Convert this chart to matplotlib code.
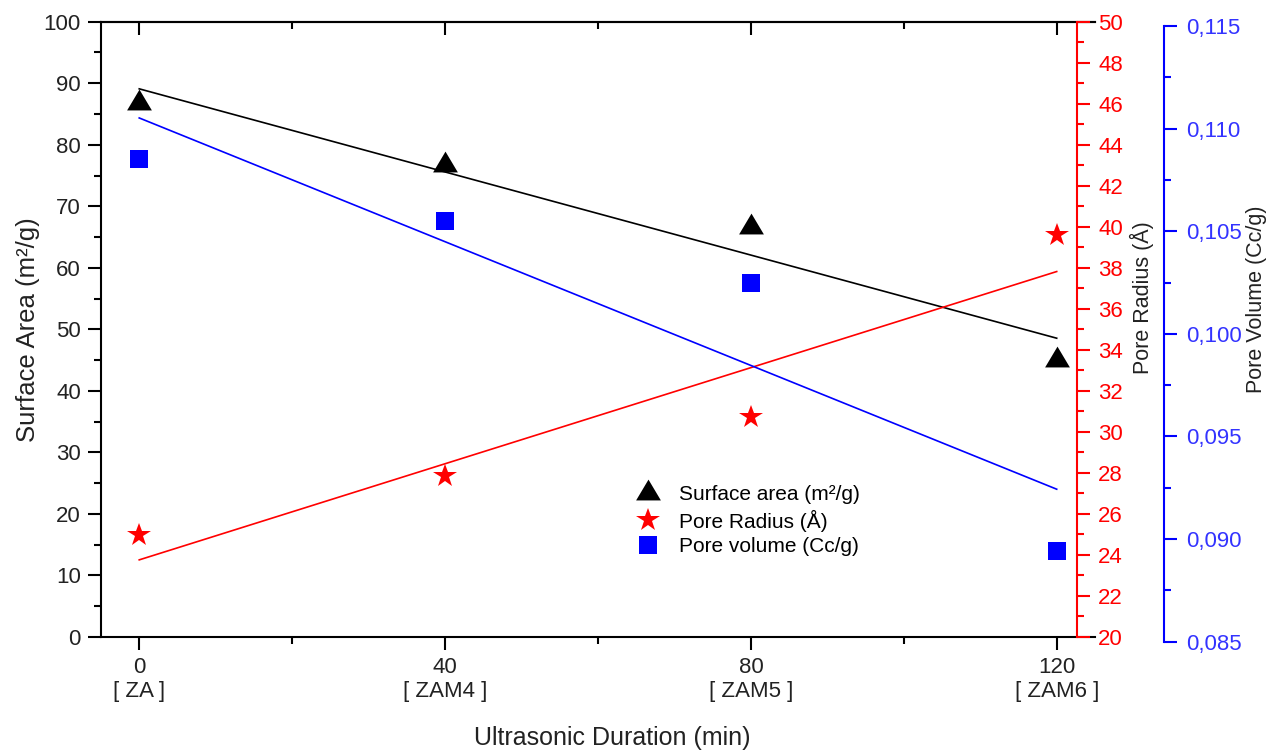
import numpy as np
import matplotlib.pyplot as plt
from matplotlib.ticker import MultipleLocator, FuncFormatter

plt.rcParams['font.family'] = ['Liberation Sans', 'DejaVu Sans']

# values
duration = [0, 40, 80, 120]
samples = ['ZA', 'ZAM4', 'ZAM5', 'ZAM6']
surface_area = [86.8, 76.7, 66.7, 45.1]        # m2/g
pore_radius = [24.96, 27.85, 30.73, 39.62]      # Angstrom
pore_volume = [0.1085, 0.1055, 0.1025, 0.0894]  # cc/g

x = np.array(duration, dtype=float)
xfit = np.array([x[0], x[-1]])

# wide triangle marker, centred on its centroid (as Origin does)
tri = [(0, 0.7), (-0.625, -0.35), (0.625, -0.35), (0, 0.7)]

fig = plt.figure(figsize=(12.72, 7.56), dpi=100)
ax = fig.add_axes([0.0794, 0.1574, 0.7814, 0.8139])
ax_r = ax.twinx()
ax_v = fig.add_axes([0.0794, 0.1512, 0.7814, 0.8144])

lw = 1.2
# surface area (left axis)
ax.plot(xfit, np.polyval(np.polyfit(x, surface_area, 1), xfit), color='black', lw=lw)
h1, = ax.plot(x, surface_area, ls='none', marker=tri, ms=20, color='black', mew=0,
              label='Surface area (m²/g)')
# pore radius (red axis)
ax_r.plot(xfit, np.polyval(np.polyfit(x, pore_radius, 1), xfit), color='red', lw=lw)
h2, = ax_r.plot(x, pore_radius, ls='none', marker='*', ms=17.5, color='red', mew=0,
                label='Pore Radius (Å)')
# pore volume (blue axis)
ax_v.plot(xfit, np.polyval(np.polyfit(x, pore_volume, 1), xfit), color='blue', lw=lw)
h3, = ax_v.plot(x, pore_volume, ls='none', marker='s', ms=13, color='blue', mew=0,
                label='Pore volume (Cc/g)')

spw = 1.5
tsize = 16
# ---- main axes
ax.set_xlim(-5, 125)
ax.set_ylim(0, 100)
ax.spines['right'].set_visible(False)
for s in ['left', 'bottom', 'top']:
    ax.spines[s].set_linewidth(spw)
ax.set_xticks(duration)
ax.set_xticklabels(['{}\n[ {} ]'.format(d, n) for d, n in zip(duration, samples)])
ax.xaxis.set_minor_locator(MultipleLocator(20))
ax.yaxis.set_major_locator(MultipleLocator(10))
ax.yaxis.set_minor_locator(MultipleLocator(5))
ax.tick_params(which='both', direction='out', width=spw, labelsize=tsize, labelcolor='#222222')
ax.tick_params(which='major', length=9.5)
ax.tick_params(which='minor', length=5)
ax.tick_params(axis='x', pad=5)
ax.tick_params(axis='y', pad=5)
ax.set_xlabel('Ultrasonic Duration (min)', fontsize=18, color='#222222')
ax.xaxis.set_label_coords(0.5146, -0.145)
ax.set_ylabel('Surface Area (m²/g)', fontsize=18.5, color='#222222')
ax.yaxis.set_label_coords(-0.061, 0.5)

top = ax.secondary_xaxis('top')
top.set_xticks(duration)
top.xaxis.set_minor_locator(MultipleLocator(20))
top.tick_params(which='both', direction='in', width=spw, labeltop=False)
top.tick_params(which='major', length=9.5)
top.tick_params(which='minor', length=5)
top.spines['top'].set_linewidth(spw)

# ---- red axis
ax_r.set_ylim(20, 50)
for s in ['left', 'top', 'bottom']:
    ax_r.spines[s].set_visible(False)
ax_r.spines['right'].set_position(('axes', 0.9816))
ax_r.spines['right'].set_color('red')
ax_r.spines['right'].set_linewidth(spw)
ax_r.yaxis.set_major_locator(MultipleLocator(2))
ax_r.yaxis.set_minor_locator(MultipleLocator(1))
ax_r.tick_params(which='both', direction='out', width=spw, color='red', labelcolor='red',
                 labelsize=tsize, pad=6)
ax_r.tick_params(which='major', length=9.5)
ax_r.tick_params(which='minor', length=5)
ax_r.set_ylabel('Pore Radius (Å)', fontsize=15.5, color='#222222')
ax_r.yaxis.set_label_coords(1.035, 0.552)

# ---- blue axis
ax_v.set_xlim(-5, 125)
ax_v.set_ylim(0.085, 0.115)
ax_v.patch.set_visible(False)
ax_v.xaxis.set_visible(False)
for s in ['left', 'top', 'bottom']:
    ax_v.spines[s].set_visible(False)
ax_v.yaxis.tick_right()
ax_v.yaxis.set_label_position('right')
ax_v.spines['right'].set_position(('axes', 1.0697))
ax_v.spines['right'].set_color('blue')
ax_v.spines['right'].set_linewidth(spw)
ax_v.yaxis.set_major_locator(MultipleLocator(0.005))
ax_v.yaxis.set_minor_locator(MultipleLocator(0.0025))
ax_v.yaxis.set_major_formatter(FuncFormatter(lambda v, _: '{:.3f}'.format(v).replace('.', ',')))
ax_v.tick_params(which='both', direction='out', width=spw, color='blue', labelcolor='#3333ff',
                 labelsize=tsize, pad=6.5)
ax_v.tick_params(which='major', length=9.5)
ax_v.tick_params(which='minor', length=5)
ax_v.set_ylabel('Pore Volume (Cc/g)', fontsize=15.5, color='#222222')
ax_v.yaxis.set_label_coords(1.152, 0.556)

fig.legend(handles=[h1, h2, h3], loc='upper left', bbox_to_anchor=(0.5013, 0.3584),
           frameon=False, fontsize=15, handlelength=1.0, handletextpad=1.0,
           borderpad=0, borderaxespad=0, labelspacing=0.27)

fig.savefig('out.png', dpi=100)
